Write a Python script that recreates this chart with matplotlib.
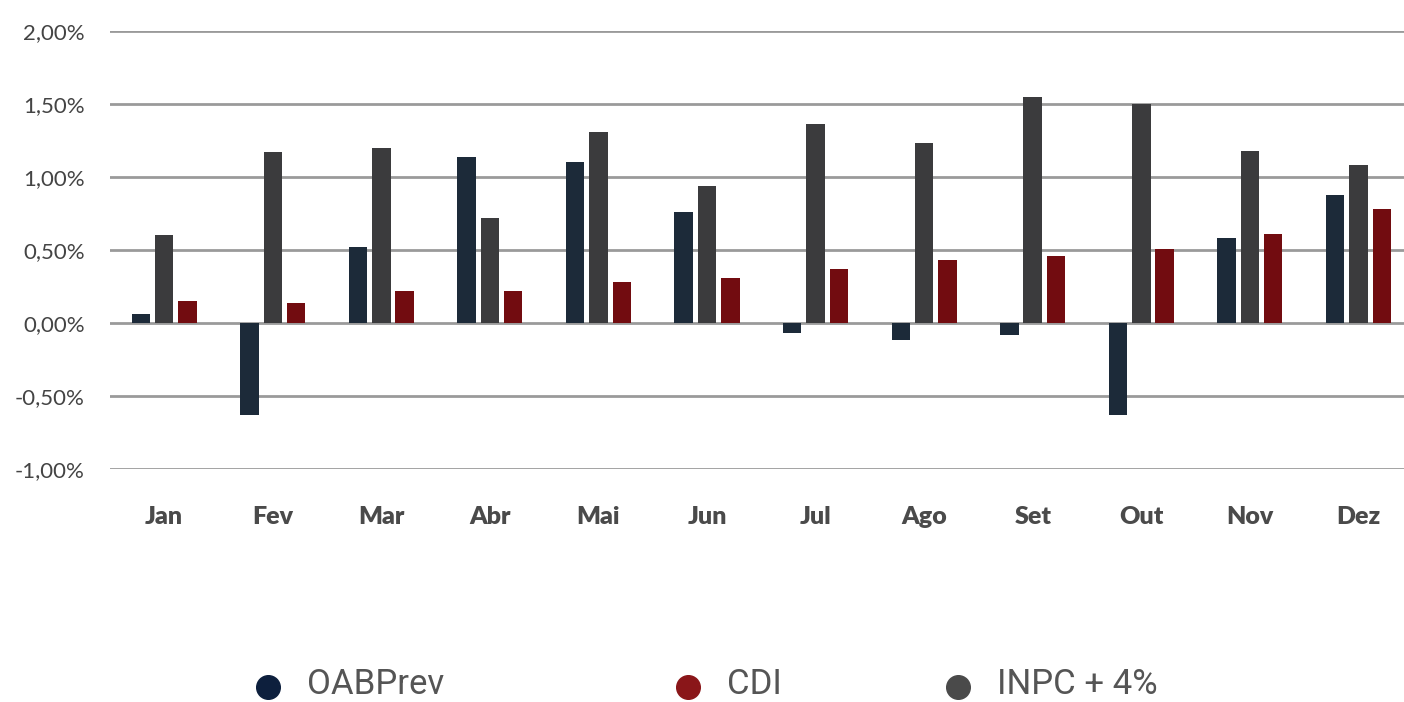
import numpy as np
import matplotlib; matplotlib.use('Agg')
import matplotlib.pyplot as plt
from matplotlib.ticker import FuncFormatter, MultipleLocator
from matplotlib.lines import Line2D

# --- Donnees (rentabilite mensuelle, %) ---
meses = ['Jan', 'Fev', 'Mar', 'Abr', 'Mai', 'Jun', 'Jul', 'Ago', 'Set', 'Out', 'Nov', 'Dez']
oabprev = [0.06, -0.63, 0.52, 1.14, 1.10, 0.76, -0.07, -0.12, -0.08, -0.63, 0.58, 0.88]
inpc = [0.60, 1.17, 1.20, 0.72, 1.31, 0.94, 1.36, 1.23, 1.55, 1.50, 1.18, 1.08]
cdi = [0.15, 0.14, 0.22, 0.22, 0.28, 0.31, 0.37, 0.43, 0.46, 0.51, 0.61, 0.78]

series = [('OABPrev', oabprev, '#1c2a39'),
          ('INPC + 4%', inpc, '#3b3b3d'),
          ('CDI', cdi, '#720c10')]

fig = plt.figure(figsize=(14.04, 7.02), dpi=100)
ax = fig.add_axes([0.0783, 0.332, 0.9217, 0.6238])

x = np.arange(len(meses))
w = 0.17
step = 0.215
for i, (nom, vals, col) in enumerate(series):
    ax.bar(x + (i - 1) * step, vals, width=w, color=col, zorder=3)

ax.set_ylim(-1.0, 2.0)
ax.set_xlim(-0.5, 11.42)
ax.yaxis.set_major_locator(MultipleLocator(0.5))
ax.yaxis.set_major_formatter(FuncFormatter(lambda v, p: f'{v:.2f}%'.replace('.', ',')))
ax.grid(axis='y', color='#9a9a9a', lw=2, zorder=1)
for s in ax.spines.values():
    s.set_visible(False)
ax.set_xticks(x)
ax.set_xticklabels(meses, fontsize=18, fontweight='heavy', color='#4a4a4a', family='Lato')
ax.tick_params(axis='x', length=0, pad=27)
ax.tick_params(axis='y', length=0, pad=18, labelsize=16, labelcolor='#444444')
for t in ax.get_yticklabels():
    t.set_family('Lato')

# --- Legende ---
leg = [('OABPrev', '#0d1f3d', 0.191), ('CDI', '#8a1619', 0.490), ('INPC + 4%', '#4a4a4a', 0.682)]
yl = 1 - 684 / 702
for nom, col, xl in leg:
    fig.add_artist(Line2D([xl], [1 - 687 / 702], marker='o', ms=17, color=col,
                          lw=0, transform=fig.transFigure))
    fig.text(xl + 0.028, yl, nom, fontsize=25, color='#555555',
             family='Roboto', va='center', ha='left')

fig.savefig('out.png', dpi=100)
